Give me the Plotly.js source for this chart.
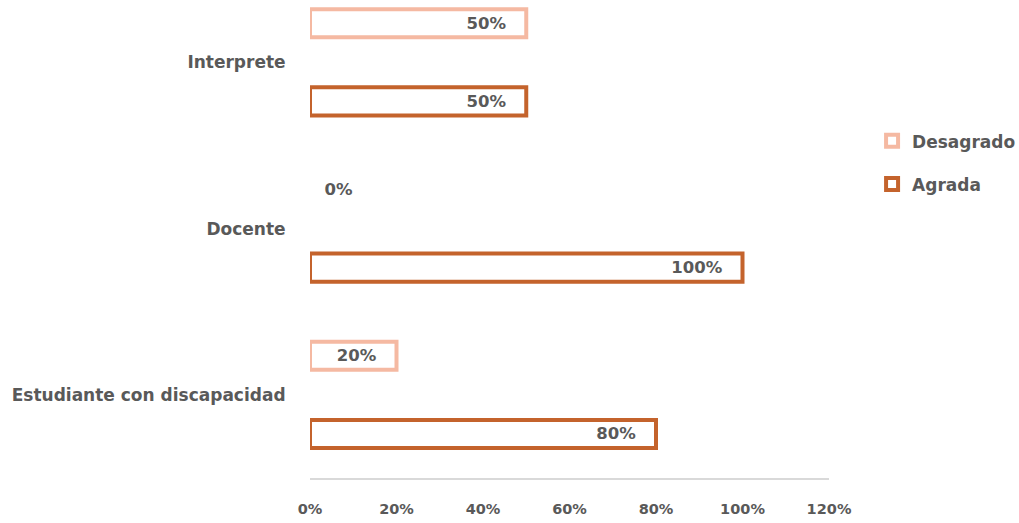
<!DOCTYPE html>
<html>
<head>
<meta charset="utf-8">
<script src="https://cdn.plot.ly/plotly-3.0.1.min.js"></script>
<style>html,body{margin:0;padding:0;background:#fff;}#chart{width:1019px;height:523px;}</style>
</head>
<body>
<div id="chart"></div>
<script>
const categories = ["Estudiante con discapacidad", "Docente", "Interprete"];
const agrada = [0.80, 1.00, 0.50];
const desagrado = [0.20, 0.00, 0.50];
const xTickVals = [0, 0.2, 0.4, 0.6, 0.8, 1.0, 1.2];
const xTickText = ["0%", "20%", "40%", "60%", "80%", "100%", "120%"];

const PAD = "\u00a0\u00a0\u00a0";
function labels(vals) {
  return vals.map(v => v === 0 ? "\u00a0\u00a0" + Math.round(v*100) + "%" : Math.round(v*100) + "%" + PAD);
}
function positions(vals) {
  return vals.map(v => v === 0 ? "outside" : "inside");
}
function lineWidths(vals) {
  return vals.map(v => v === 0 ? 0 : 4);
}
const labelFont = {family: "DejaVu Sans", size: 16.5, color: "#595959", weight: "bold"};

const traces = [
  {
    type: "bar", orientation: "h", name: "Agrada", legendgroup: "a", legendrank: 2,
    y: categories, x: agrada,
    marker: {color: "#ffffff", line: {color: "#c4632c", width: lineWidths(agrada)}},
    text: labels(agrada), textposition: positions(agrada),
    insidetextanchor: "end", textfont: labelFont, outsidetextfont: labelFont, insidetextfont: labelFont,
    cliponaxis: false, hoverinfo: "none"
  },
  {
    type: "bar", orientation: "h", name: "Desagrado", legendgroup: "d", legendrank: 1,
    y: categories, x: desagrado,
    marker: {color: "#ffffff", line: {color: "#f5b9a2", width: lineWidths(desagrado)}},
    text: labels(desagrado), textposition: positions(desagrado),
    insidetextanchor: "end", textfont: labelFont, outsidetextfont: labelFont, insidetextfont: labelFont,
    cliponaxis: false, hoverinfo: "none"
  }
];

const layout = {
  width: 1019, height: 523,
  margin: {l: 310, r: 190, t: 0, b: 45, autoexpand: false},
  paper_bgcolor: "#ffffff", plot_bgcolor: "#ffffff",
  barmode: "group", bargap: 0.06, bargroupgap: 0.64,
  showlegend: true,
  legend: {
    x: 1.083, xanchor: "left", y: 0.742, yanchor: "top",
    traceorder: "grouped", tracegroupgap: 18,
    font: {family: "DejaVu Sans", size: 17, color: "#595959", weight: "bold"},
    bgcolor: "rgba(0,0,0,0)"
  },
  xaxis: {
    range: [0, 1.2], tickvals: xTickVals, ticktext: xTickText,
    showgrid: false, zeroline: false, showline: true, linecolor: "#d9d9d9", linewidth: 1.5,
    ticks: "outside", ticklen: 17, tickcolor: "rgba(0,0,0,0)",
    tickfont: {family: "DejaVu Sans", size: 14.5, color: "#595959", weight: "bold"},
    fixedrange: true
  },
  yaxis: {
    type: "category", categoryorder: "array", categoryarray: categories,
    range: [-0.5, 2.375],
    showgrid: false, zeroline: false, showline: false,
    ticks: "outside", ticklen: 20, tickcolor: "rgba(0,0,0,0)",
    tickfont: {family: "DejaVu Sans", size: 17, color: "#595959", weight: "bold"},
    fixedrange: true
  }
};

Plotly.newPlot("chart", traces, layout, {displayModeBar: false, staticPlot: true});
</script>
</body>
</html>
